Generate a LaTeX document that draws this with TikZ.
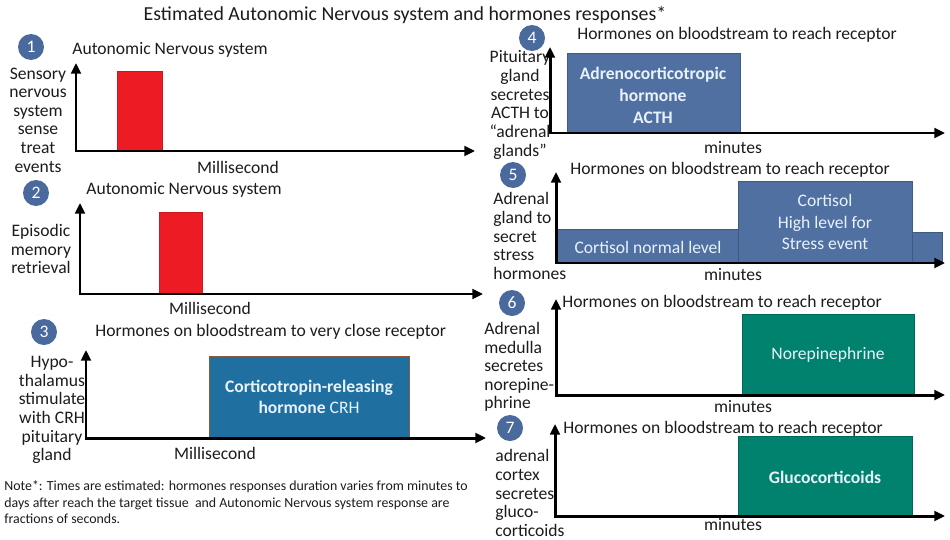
\documentclass[tikz,border=0pt]{standalone}
\usepackage{fontspec}
\setmainfont{Carlito}
\usetikzlibrary{positioning, arrows.meta, fit}

\definecolor{badgeblue}{HTML}{4A6A9E}
\definecolor{barred}{HTML}{ED1C24}
\definecolor{crhblue}{HTML}{1F6FA0}
\definecolor{crhedge}{HTML}{8B5A3C}
\definecolor{acthblue}{HTML}{5070A2}
\definecolor{tealgreen}{HTML}{00826F}
\definecolor{boxtext}{HTML}{E8F2FC}
\definecolor{inkgray}{HTML}{1C1C1C}

\begin{document}
\begin{tikzpicture}[
    x=0.2mm, y=-0.2mm,
    every node/.style={font=\fontsize{10}{10.6}\selectfont, text=inkgray, inner sep=0pt},
    badge/.style={circle, fill=badgeblue, text=white, minimum size=5.2mm},
    heading/.style={anchor=west},
    sidetext/.style={align=center},
    sidetextl/.style={align=left, anchor=west},
    axis/.style={line width=1.7pt, {Triangle[length=6pt, width=5.5pt]}-{Triangle[length=6pt, width=5.5pt]}},
    redbar/.style={fill=barred, draw=barred!85!black, line width=0.4pt},
    hormone/.style={draw=#1!80!black, fill=#1, line width=0.5pt},
    boxlabel/.style={text=boxtext, align=center},
    note/.style={font=\fontsize{7.9}{9.6}\selectfont, align=left, anchor=north west}
]
\useasboundingbox (0,0) rectangle (950,539);

\node[font=\fontsize{11.3}{12}\selectfont] (title) at (405,15) {Estimated Autonomic Nervous system and hormones responses*};

% Panel 1
\node[badge] (b1) at (31,47) {1};
\node[heading] (h1) at (72,50) {Autonomic Nervous system};
\node[sidetext] (s1) at (38,120) {Sensory\\nervous\\system\\sense\\treat\\events};
\node[redbar, fit={(117,71) (162,151)}] (bar1) {};
\coordinate (o1) at (76,151);
\coordinate (y1) at (76,63);
\coordinate (x1) at (475,151);
\draw[axis] (y1) -- (o1) -- (x1);
\node (t1) at (238,167) {Millisecond};

% Panel 2
\node[badge] (b2) at (36,193) {2};
\node[heading] (h2) at (86,190) {Autonomic Nervous system};
\node[sidetext] (s2) at (41,249) {Episodic\\memory\\retrieval};
\node[redbar, fit={(159,212) (202,294)}] (bar2) {};
\coordinate (o2) at (80,294);
\coordinate (y2) at (80,203);
\coordinate (x2) at (483,294);
\draw[axis] (y2) -- (o2) -- (x2);
\node (t2) at (210,308) {Millisecond};

% Panel 3
\node[badge] (b3) at (44,332) {3};
\node[heading] (h3) at (95,332) {Hormones on bloodstream to very close receptor};
\node[sidetext] (s3) at (52,410) {Hypo-\\thalamus\\stimulate\\with CRH\\pituitary\\gland};
\node[hormone=crhblue, draw=crhedge, fit={(209,356) (409,438)}] (crh) {};
\node[boxlabel, font=\fontsize{10}{12}\selectfont] (crhtext) at (309,397) {\textbf{Corticotropin-releasing}\\\textbf{hormone} CRH};
\coordinate (o3) at (86,438);
\coordinate (y3) at (86,350);
\coordinate (x3) at (486,438);
\draw[axis] (y3) -- (o3) -- (x3);
\node (t3) at (215,453) {Millisecond};

% Note
\node[note] (note) at (4,480) {Note*: Times are estimated: hormones responses duration varies from minutes to\\days after reach the target tissue\ \ and Autonomic Nervous system response are\\fractions of seconds.};

% Panel 4
\node[badge] (b4) at (532,38) {4};
\node[heading] (h4) at (577,35) {Hormones on bloodstream to reach receptor};
\node[sidetext] (s4) at (520,105) {Pituitary\\gland\\secretes\\ACTH to\\“adrenal\\glands”};
\node[hormone=acthblue, fit={(567,53) (740,133)}] (acth) {};
\node[boxlabel, font=\fontsize{10}{12.5}\selectfont\bfseries] (acthtext) at (653,95) {Adrenocorticotropic\\hormone\\ACTH};
\coordinate (o4) at (550,133);
\coordinate (y4) at (550,47);
\coordinate (x4) at (945,133);
\draw[axis] (y4) -- (o4) -- (x4);
\node (t4) at (733,148) {minutes};

% Panel 5
\node[badge] (b5) at (513,175) {5};
\node[heading] (h5) at (570,170) {Hormones on bloodstream to reach receptor};
\node[sidetextl] (s5) at (493,236) {Adrenal\\gland to\\secret\\stress\\hormones};
\node[hormone=acthblue, fit={(556,229) (738,263)}] (cortlow) {};
\node[hormone=acthblue, fit={(738,181) (912,263)}] (corthigh) {};
\node[hormone=acthblue, fit={(912,232) (942,263)}] (cortend) {};
\node[boxlabel] (lowtext) at (648,247) {Cortisol normal level};
\node[boxlabel, font=\fontsize{10}{12.2}\selectfont] (hightext) at (825,222) {Cortisol\\High level for\\Stress event};
\coordinate (o5) at (556,263);
\coordinate (y5) at (556,172);
\coordinate (x5) at (945,263);
\draw[axis] (y5) -- (o5) -- (x5);
\node (t5) at (733,275) {minutes};

% Panel 6
\node[badge] (b6) at (512,303) {6};
\node[heading] (h6) at (562,303) {Hormones on bloodstream to reach receptor};
\node[sidetextl] (s6) at (484,367) {Adrenal\\medulla\\secretes\\norepine-\\phrine};
\node[hormone=tealgreen, fit={(742,314) (914,395)}] (norepi) {};
\node[boxlabel] (norepitext) at (828,355) {Norepinephrine};
\coordinate (o6) at (556,395);
\coordinate (y6) at (556,299);
\coordinate (x6) at (945,395);
\draw[axis] (y6) -- (o6) -- (x6);
\node (t6) at (743,407) {minutes};

% Panel 7
\node[badge] (b7) at (510,428) {7};
\node[heading] (h7) at (563,429) {Hormones on bloodstream to reach receptor};
\node[sidetextl] (s7) at (495,493) {adrenal\\cortex\\secretes\\gluco-\\corticoids};
\node[hormone=tealgreen, fit={(738,436) (912,516)}] (gluco) {};
\node[boxlabel, font=\fontsize{10}{11}\selectfont\bfseries] (glucotext) at (825,477) {Glucocorticoids};
\coordinate (o7) at (555,516);
\coordinate (y7) at (555,424);
\coordinate (x7) at (945,516);
\draw[axis] (y7) -- (o7) -- (x7);
\node (t7) at (733,525) {minutes};

\end{tikzpicture}
\end{document}
